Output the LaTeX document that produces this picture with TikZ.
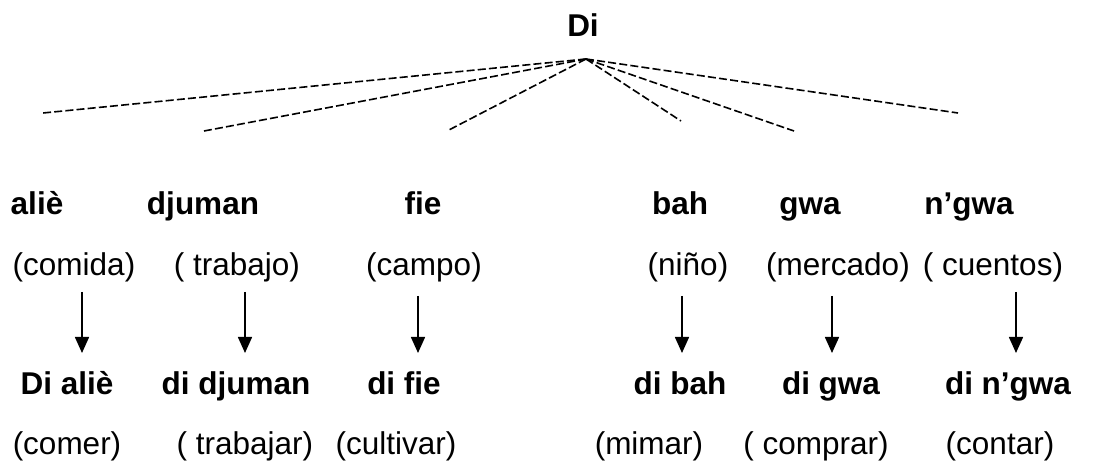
\documentclass[tikz,border=0pt]{standalone}
\usepackage{fontspec}
\setmainfont{Liberation Sans}
\usetikzlibrary{arrows.meta}
\tikzset{
	word/.style={font=\fontsize{15.75}{18}\selectfont\bfseries,anchor=base,inner sep=0pt},
	gloss/.style={font=\fontsize{15.75}{18}\selectfont,anchor=base,inner sep=0pt},
	branch/.style={dash pattern=on 4pt off 1.6pt,line width=.8pt},
	derive/.style={-{Triangle[length=8pt,width=7pt]},line width=.8pt}
}
\begin{document}
\begin{tikzpicture}[x=.5pt,y=-.5pt]
		\useasboundingbox (0,0) rectangle (1115,464);

		\node[word] (di) at (583,37) {Di};
		\coordinate (top) at (586,59);
		\foreach \ex/\ey [count=\i] in {43/113,204/131,447/131,681/121,794/131,958/113}
			{\coordinate (end\i) at (\ex,\ey); \draw[branch] (top) -- (end\i);}

		% nouns
		\node[word] (alie) at (37,215) {aliè};
		\node[word] (djuman) at (203,215) {djuman};
		\node[word] (fie) at (423,215) {fie};
		\node[word] (bah) at (680,215) {bah};
		\node[word] (gwa) at (810,215) {gwa};
		\node[word] (ngwa) at (969,215) {n’gwa};

		\node[gloss] (comida) at (74,276) {(comida)};
		\node[gloss] (trabajo) at (237,276) {( trabajo)};
		\node[gloss] (campo) at (424,276) {(campo)};
		\node[gloss] (nino) at (688,276) {(niño)};
		\node[gloss] (mercado) at (838,276) {(mercado)};
		\node[gloss] (cuentos) at (993,276) {( cuentos)};

		% verbs
		\node[word] (dialie) at (67,395) {Di aliè};
		\node[word] (didjuman) at (236,395) {di djuman};
		\node[word] (difie) at (404,395) {di fie};
		\node[word] (dibah) at (680,395) {di bah};
		\node[word] (digwa) at (831,395) {di gwa};
		\node[word] (dingwa) at (1008,395) {di n’gwa};

		\node[gloss] (comer) at (67,455) {(comer)};
		\node[gloss] (trabajar) at (245,455) {( trabajar)};
		\node[gloss] (cultivar) at (396,455) {(cultivar)};
		\node[gloss] (mimar) at (649,455) {(mimar)};
		\node[gloss] (comprar) at (816,455) {( comprar)};
		\node[gloss] (contar) at (1000,455) {(contar)};

		\coordinate (a1) at (82,292); \coordinate (b1) at (82,353);
		\coordinate (a2) at (245,292); \coordinate (b2) at (245,353);
		\coordinate (a3) at (418,296); \coordinate (b3) at (418,353);
		\coordinate (a4) at (682,296); \coordinate (b4) at (682,353);
		\coordinate (a5) at (832,296); \coordinate (b5) at (832,353);
		\coordinate (a6) at (1016,292); \coordinate (b6) at (1016,353);
		\draw[derive] (a1) -- (b1);
		\draw[derive] (a2) -- (b2);
		\draw[derive] (a3) -- (b3);
		\draw[derive] (a4) -- (b4);
		\draw[derive] (a5) -- (b5);
		\draw[derive] (a6) -- (b6);
	\end{tikzpicture}
\end{document}
